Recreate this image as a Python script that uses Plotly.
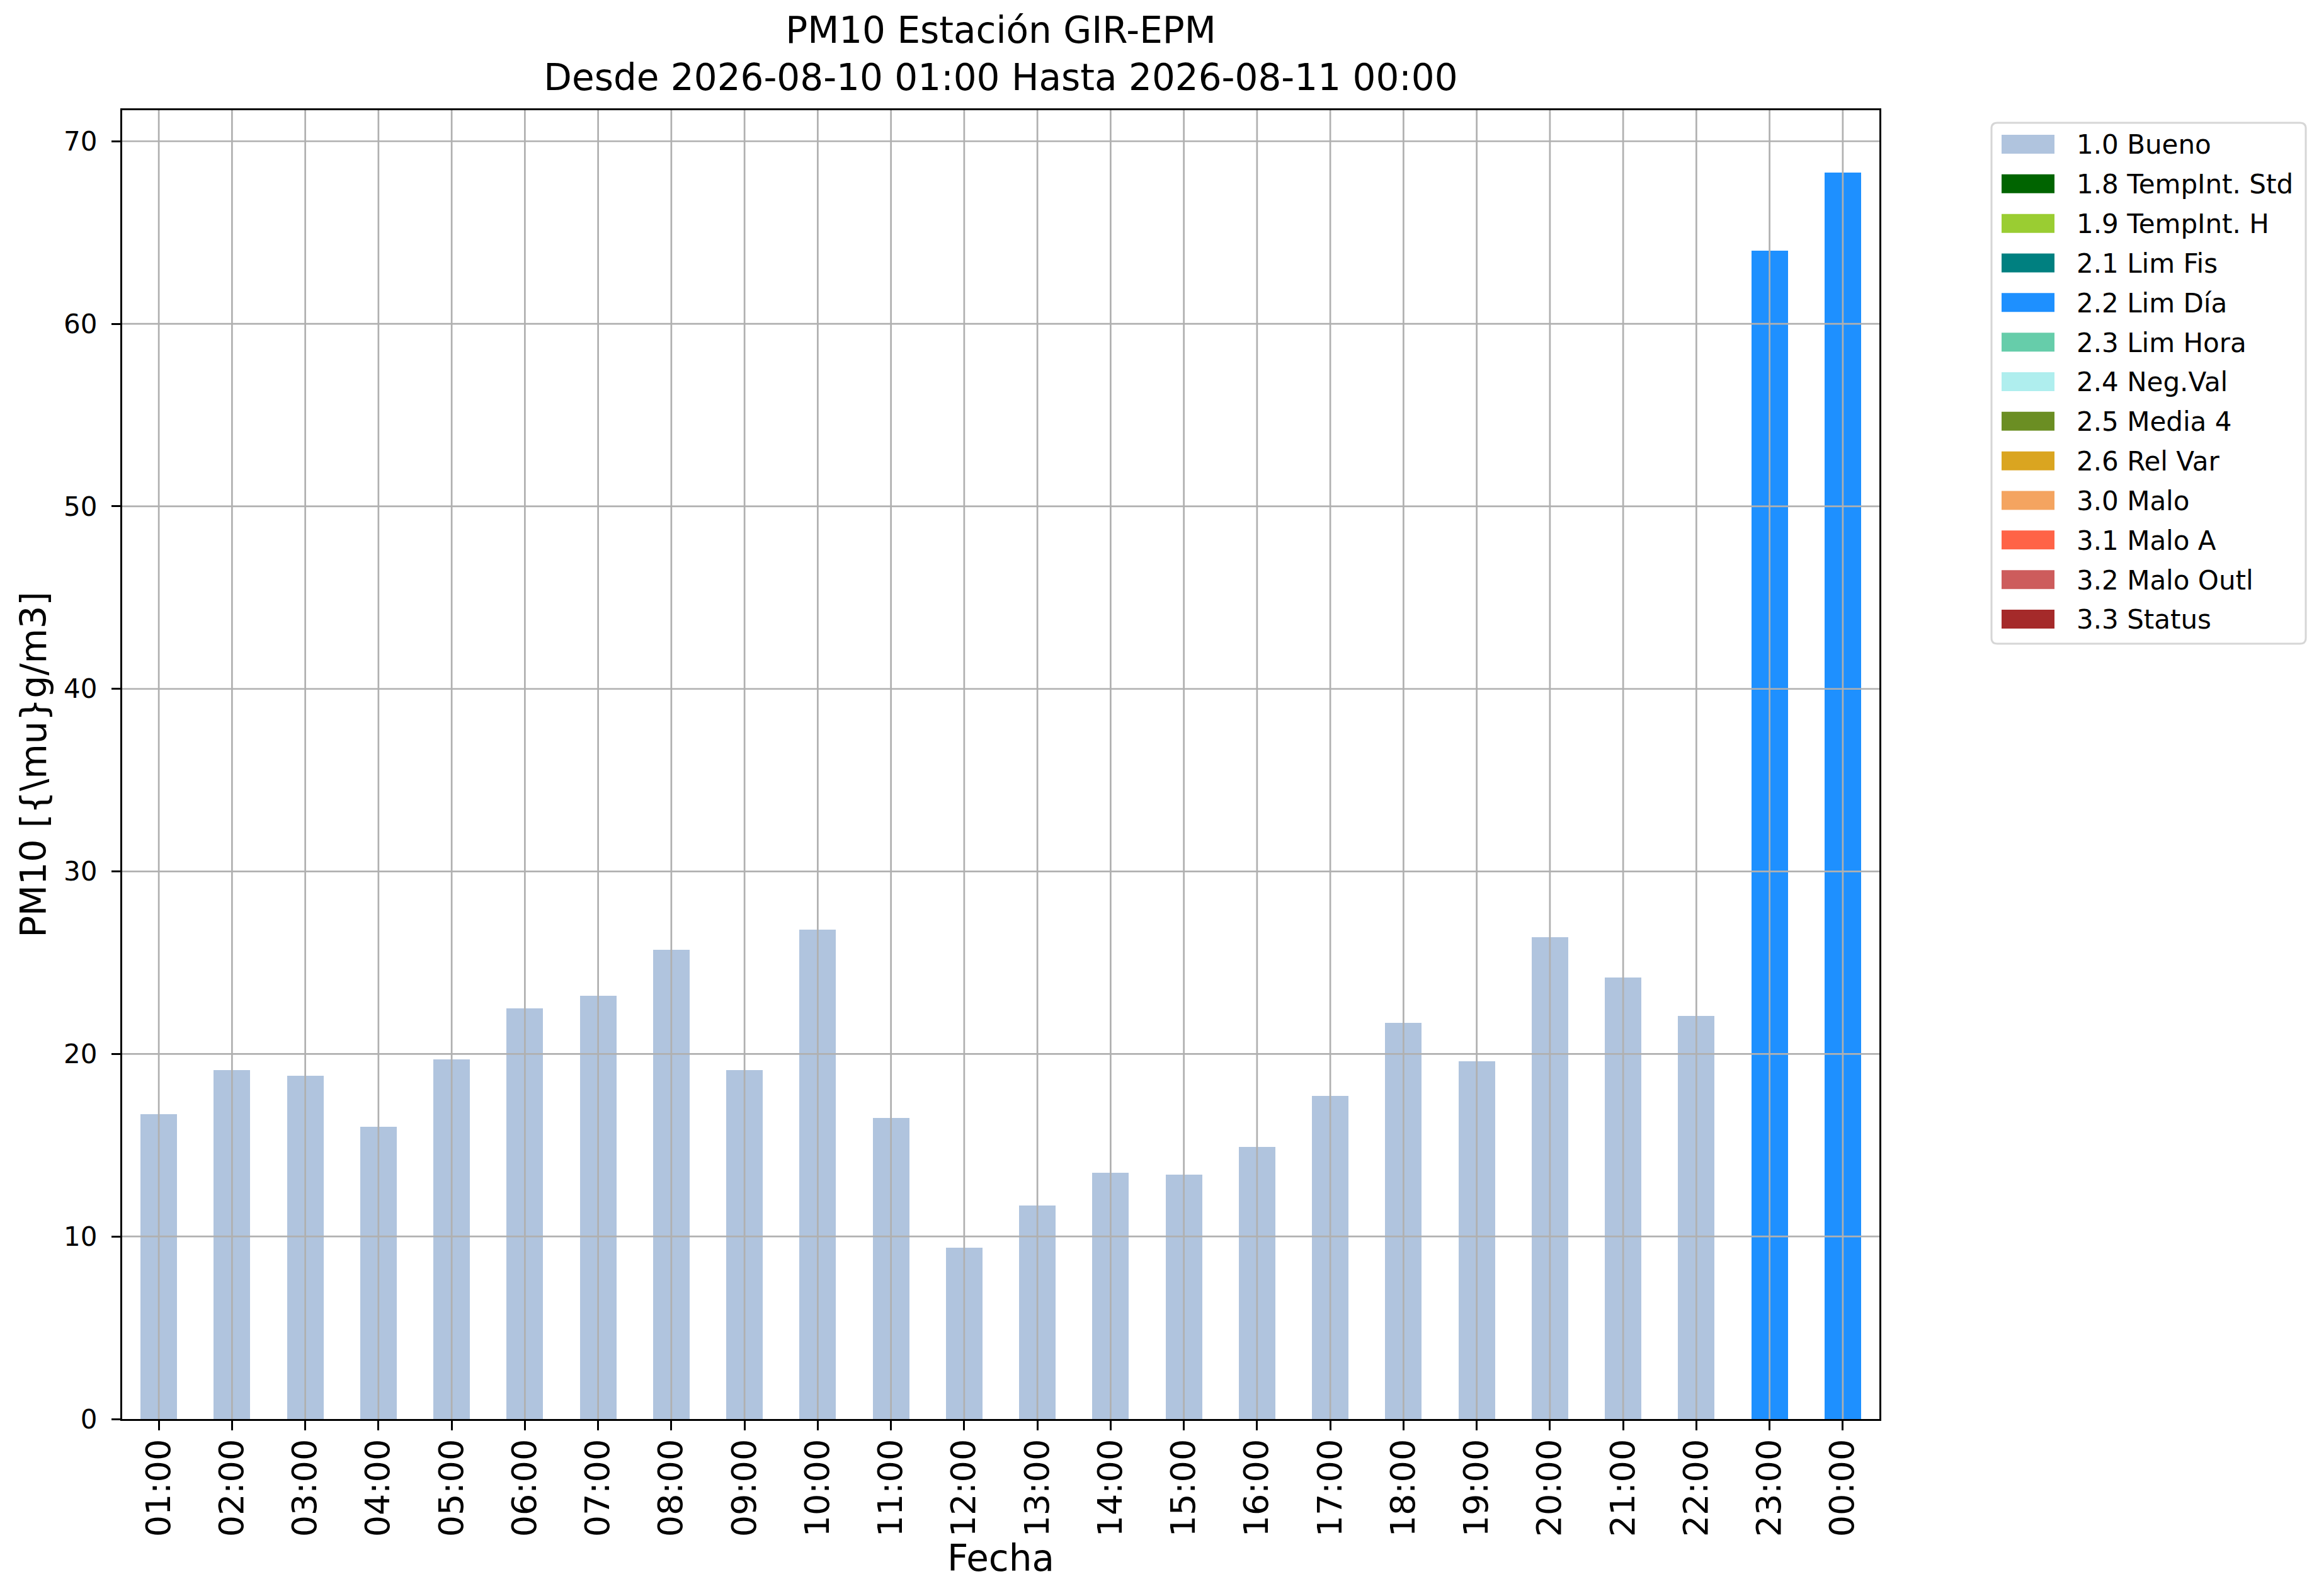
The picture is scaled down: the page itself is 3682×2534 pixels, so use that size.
import plotly.graph_objects as go

hours = ["01:00", "02:00", "03:00", "04:00", "05:00", "06:00", "07:00", "08:00",
         "09:00", "10:00", "11:00", "12:00", "13:00", "14:00", "15:00", "16:00",
         "17:00", "18:00", "19:00", "20:00", "21:00", "22:00", "23:00", "00:00"]

bueno = [16.7, 19.1, 18.8, 16.0, 19.7, 22.5, 23.2, 25.7, 19.1, 26.8, 16.5, 9.4,
         11.7, 13.5, 13.4, 14.9, 17.7, 21.7, 19.6, 26.4, 24.2, 22.1, None, None]
lim_dia = [None] * 22 + [64.0, 68.3]
empty = [None] * 24

flag_labels = ["1.0 Bueno", "1.8 TempInt. Std", "1.9 TempInt. H", "2.1 Lim Fis",
               "2.2 Lim Día", "2.3 Lim Hora", "2.4 Neg.Val", "2.5 Media 4",
               "2.6 Rel Var", "3.0 Malo", "3.1 Malo A", "3.2 Malo Outl", "3.3 Status"]
flag_colors = ["#B0C4DE", "#006400", "#9ACD32", "#008080", "#1E90FF", "#66CDAA",
               "#AFEEEE", "#6B8E23", "#DAA520", "#F4A460", "#FF6347", "#CD5C5C",
               "#A52A2A"]
flag_values = {"1.0 Bueno": bueno, "2.2 Lim Día": lim_dia}

y_ticks = [0, 10, 20, 30, 40, 50, 60, 70]
y_max = 71.7

FONT = "DejaVu Sans"
GRID = "#b0b0b0"

# figure geometry (px)
W, H = 3682, 2534
ML, MR, MT, MB = 186, 706, 167, 289
PW, PH = W - ML - MR, H - MT - MB


def px_x(px):
    return (px - ML) / PW


def px_y(py):
    return (H - MB - py) / PH


fig = go.Figure()
for lab, col in zip(flag_labels, flag_colors):
    fig.add_trace(go.Bar(
        x=hours, y=flag_values.get(lab, empty), name=lab,
        marker=dict(color=col, line=dict(width=0)),
        width=0.5, showlegend=False,
    ))

shapes = []
# grid lines drawn above the bars (as in the reference)
for v in y_ticks:
    if v <= 0:
        continue
    shapes.append(dict(type="line", xref="paper", yref="y", x0=0, x1=1, y0=v, y1=v,
                       line=dict(color=GRID, width=2.7), layer="above"))
for i in range(len(hours)):
    shapes.append(dict(type="line", xref="x", yref="paper", x0=i, x1=i, y0=0, y1=1,
                       line=dict(color=GRID, width=2.7), layer="above"))

# legend box (rounded frame, wide patches)
LX0, LX1, LY0, LY1 = 3154, 3653, 187, 1014
R = 9
rx, ry = R / PW, R / PH
x0, x1, y0, y1 = px_x(LX0), px_x(LX1), px_y(LY1), px_y(LY0)
frame_path = (f"M{x0 + rx},{y0} L{x1 - rx},{y0} Q{x1},{y0} {x1},{y0 + ry} "
              f"L{x1},{y1 - ry} Q{x1},{y1} {x1 - rx},{y1} "
              f"L{x0 + rx},{y1} Q{x0},{y1} {x0},{y1 - ry} "
              f"L{x0},{y0 + ry} Q{x0},{y0} {x0 + rx},{y0} Z")
shapes.append(dict(type="path", xref="paper", yref="paper", path=frame_path,
                   fillcolor="white", line=dict(color="#d6d6d6", width=3), layer="above"))

annotations = []
ROW0, ROWSTEP = 221, 62.83
for k, (lab, col) in enumerate(zip(flag_labels, flag_colors)):
    cy = ROW0 + k * ROWSTEP
    shapes.append(dict(type="rect", xref="paper", yref="paper",
                       x0=px_x(3170), x1=px_x(3254), y0=px_y(cy + 15), y1=px_y(cy - 15),
                       fillcolor=col, line=dict(width=0), layer="above"))
    annotations.append(dict(text=lab, xref="paper", yref="paper",
                            x=px_x(3287), y=px_y(cy + 1), xanchor="left", yanchor="middle",
                            showarrow=False, font=dict(family=FONT, size=42, color="black")))

fig.update_layout(
    width=W, height=H,
    margin=dict(l=ML, r=MR, t=MT, b=MB, pad=0),
    paper_bgcolor="white", plot_bgcolor="white",
    barmode="stack",
    font=dict(family=FONT, color="black"),
    title=dict(
        text="PM10 Estación GIR-EPM<br>Desde 2026-08-10 01:00 Hasta 2026-08-11 00:00",
        font=dict(family=FONT, size=58, color="black"),
        x=0.5, xref="paper", xanchor="center",
        y=1 - 60 / H, yref="container", yanchor="top",
    ),
    xaxis=dict(
        type="category", range=[-0.5, 23.5],
        showgrid=False, zeroline=False,
        showline=True, linecolor="black", linewidth=3.3, mirror=True,
        ticks="outside", ticklen=15, tickwidth=3, tickcolor="black",
        tickangle=-90, tickfont=dict(family=FONT, size=54, color="black"),
        ticklabelstandoff=-8,
        title=dict(text="Fecha", font=dict(family=FONT, size=58, color="black"), standoff=8),
    ),
    yaxis=dict(
        range=[0, y_max], tickvals=y_ticks,
        showgrid=False, zeroline=False,
        showline=True, linecolor="black", linewidth=3.3, mirror=True,
        ticks="outside", ticklen=14, tickwidth=3, tickcolor="black",
        tickfont=dict(family=FONT, size=42, color="black"),
        ticklabelstandoff=14,
        title=dict(text=r"PM10 [{\mu}g/m3]", font=dict(family=FONT, size=57, color="black"), standoff=10),
    ),
    shapes=shapes,
    annotations=annotations,
    showlegend=False,
)

fig.write_html("out.html")
